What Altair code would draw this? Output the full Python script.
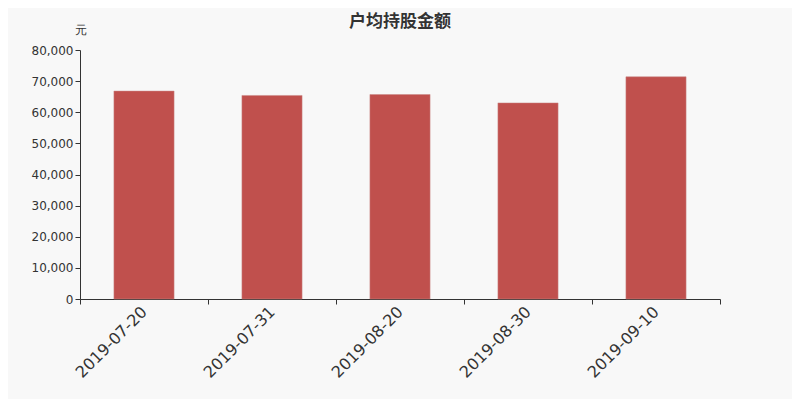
import altair as alt
import pandas as pd

dates = ["2019-07-20", "2019-07-31", "2019-08-20", "2019-08-30", "2019-09-10"]
values = [66800, 65400, 65700, 63000, 71400]

df = pd.DataFrame({"date": dates, "value": values})

FONT = "DejaVu Sans"

chart = (
    alt.Chart(df)
    .mark_bar(color="#c0504d", stroke="#c98886", strokeWidth=0.5,
              width=alt.RelativeBandSize(0.47))
    .encode(
        x=alt.X(
            "date:N",
            sort=dates,
            scale=alt.Scale(paddingInner=0, paddingOuter=0),
            axis=alt.Axis(
                title=None,
                labelAngle=-45,
                labelAlign="right",
                labelBaseline="middle",
                labelFontSize=16,
                labelFont=FONT,
                labelColor="#333333",
                labelPadding=5,
                tickBand="extent",
                tickSize=5,
                tickColor="#333333",
                domainColor="#333333",
                grid=False,
            ),
        ),
        y=alt.Y(
            "value:Q",
            scale=alt.Scale(domain=[0, 80000]),
            axis=alt.Axis(
                title="元",
                titleAngle=0,
                titleAlign="center",
                titleBaseline="middle",
                titleX=0,
                titleY=-21,
                titleFont=FONT,
                titleFontSize=12,
                titleFontWeight="normal",
                titleColor="#333333",
                values=[0, 10000, 20000, 30000, 40000, 50000, 60000, 70000, 80000],
                format=",.0f",
                labelFont=FONT,
                labelFontSize=12,
                labelColor="#333333",
                tickSize=5,
                tickColor="#333333",
                domainColor="#333333",
                grid=False,
            ),
        ),
    )
    .properties(
        width=640,
        height=249,
        background="#f8f8f8",
        autosize=alt.AutoSizeParams(type="none"),
        padding={"left": 72, "top": 42, "right": 72, "bottom": 100},
        title=alt.TitleParams(
            text="户均持股金额",
            anchor="middle",
            offset=2,
            dy=10,
            font="Noto Sans CJK SC",
            fontSize=17,
            fontWeight="bold",
            color="#333333",
        ),
    )
    .configure_view(stroke=None)
)

chart.save("out.html", embed_options={"renderer": "svg", "actions": False})
